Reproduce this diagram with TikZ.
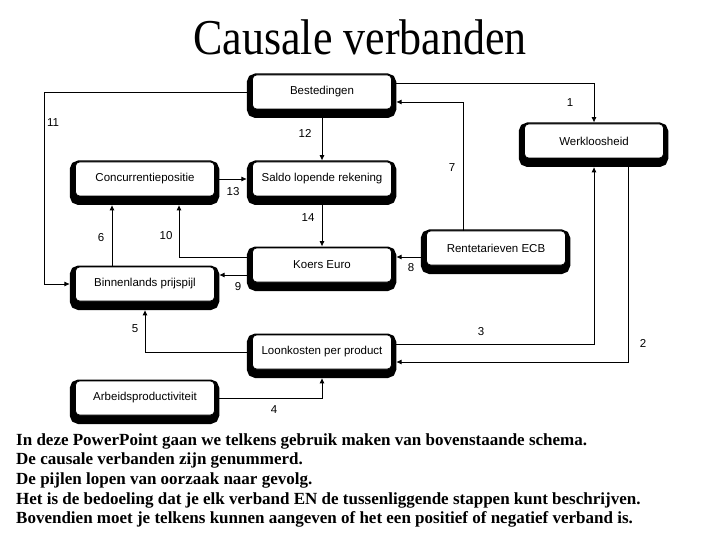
\documentclass[tikz,border=0pt]{standalone}
\usepackage{fontspec}
\usepackage{graphicx}
\setmainfont{Liberation Serif}
\newfontfamily\boxfont{Liberation Sans}
\usetikzlibrary{arrows.meta,shadows}

\tikzset{
  blok/.style={draw=black, line width=0.8pt, fill=white, rounded corners=4pt,
    minimum width=139pt, minimum height=34pt, inner sep=0pt,
    font=\boxfont\fontsize{11.5}{13}\selectfont,
    general shadow={fill=black, draw=black, line width=10.5pt,
      shadow xshift=-0.5pt, shadow yshift=-3.75pt}},
  pijl/.style={line width=0.9pt, -{Triangle[length=5pt,width=4.5pt]}},
  naarboven/.style={pijl, shorten >=1.5pt},
  naaronder/.style={pijl, shorten >=9pt},
  naarlinks/.style={pijl, shorten >=5.75pt},
  naarrechts/.style={pijl, shorten >=4.75pt},
  nummer/.style={font=\boxfont\fontsize{11.5}{13}\selectfont, inner sep=0pt}
}

\begin{document}
\begin{tikzpicture}[x=1pt, y=-1pt]
  \useasboundingbox (0,0) rectangle (720,540);

  \node (titel) at (360,37) {\fontsize{44}{50}\selectfont\scalebox{1}[1.14]{Causale verbanden}};

  % blokken
  \node[blok] (best)   at (322,92)  {Bestedingen};
  \node[blok] (werk)   at (594,141) {Werkloosheid};
  \node[blok] (conc)   at (145,179) {Concurrentiepositie};
  \node[blok] (saldo)  at (322,179) {Saldo lopende rekening};
  \node[blok] (rente)  at (496,248) {Rentetarieven ECB};
  \node[blok] (koers)  at (322,265) {Koers Euro};
  \node[blok] (binnen) at (145,284) {Binnenlands prijspijl};
  \node[blok] (loon)   at (322,352) {Loonkosten per product};
  \node[blok] (arbeid) at (145,398) {Arbeidsproductiviteit};

  % verbanden
  \draw[naarboven] ([yshift=9pt]best.east) -| (werk.north);
  \draw[naarrechts] ([xshift=34pt]werk.south) |- ([yshift=-10pt]loon.east);
  \draw[naaronder] ([yshift=8pt]loon.east) -| (werk.south);
  \draw[naaronder] (arbeid.east) -| (loon.south);
  \draw[naaronder] (loon.west) -| (binnen.south);
  \draw[naaronder] ([xshift=-33pt]binnen.north) -- ([xshift=-33pt]conc.south);
  \draw[naarrechts] ([xshift=-33pt]rente.north) |- ([yshift=-10pt]best.east);
  \draw[naarrechts] ([yshift=-9pt]rente.west) -- ([yshift=-9pt]rente.west -| koers.east);
  \draw[naarrechts] ([yshift=-10pt]koers.west) -- ([yshift=-10pt]koers.west -| binnen.east);
  \draw[naaronder] ([yshift=8pt]koers.west) -| ([xshift=34pt]conc.south);
  \draw[naarlinks] (best.west) -- ++(-208,0) |- (binnen.west);
  \draw[naarboven] (best.south) -- (saldo.north);
  \draw[naarlinks] (conc.east) -- (saldo.west);
  \draw[naarboven] (saldo.south) -- (koers.north);

  % nummers
  \foreach \n/\x/\y in {1/570/103, 2/643/343, 3/481/332, 4/274/410, 5/135/329,
                        6/101/238, 7/452/168, 8/411/268, 9/238/287, 10/166/236,
                        11/53/123, 12/305/133, 13/233/192, 14/308/218}
    \node[nummer] (n\n) at (\x,\y) {\n};

  % toelichting
  \foreach \r/\t in {0/{In deze PowerPoint gaan we telkens gebruik maken van bovenstaande schema.},
                     1/{De causale verbanden zijn genummerd.},
                     2/{De pijlen lopen van oorzaak naar gevolg.},
                     3/{Het is de bedoeling dat je elk verband EN de tussenliggende stappen kunt beschrijven.},
                     4/{Bovendien moet je telkens kunnen aangeven of het een positief of negatief verband is.}}
    \node[anchor=base west, inner sep=0pt, font=\bfseries\fontsize{17}{20}\selectfont] (regel\r) at (16,445+19.7*\r) {\t};
\end{tikzpicture}
\end{document}
